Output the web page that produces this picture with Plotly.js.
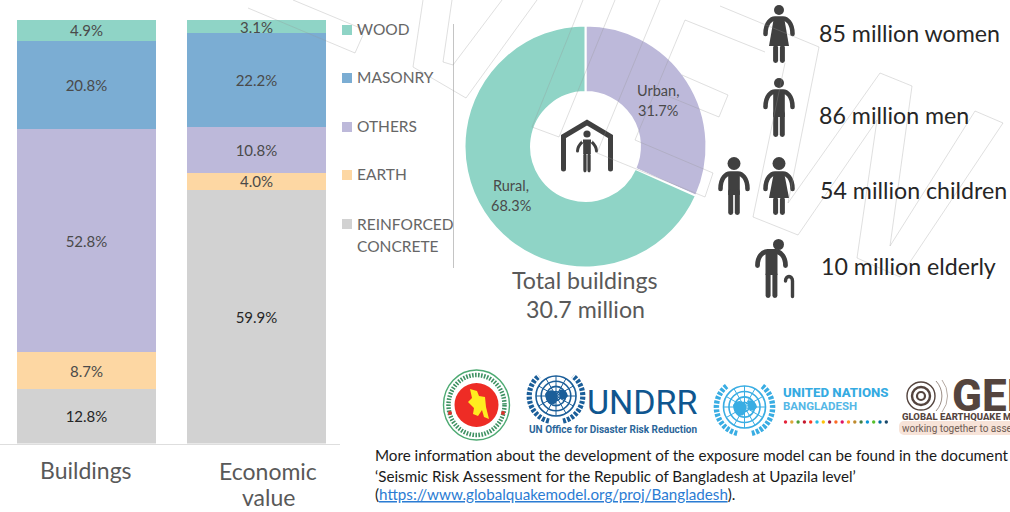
<!DOCTYPE html>
<html>
<head>
<meta charset="utf-8">
<script src="https://cdn.plot.ly/plotly-3.0.1.min.js"></script>
<style>html,body{margin:0;padding:0;background:#fff}#chart{width:1010px;height:512px}</style>
</head>
<body>
<div id="chart"></div>
<script>
// Building stock composition, stacked from the ground up
const materials = ['REINFORCED CONCRETE', 'EARTH', 'OTHERS', 'MASONRY', 'WOOD'];
const buildingsShare = [12.8, 8.7, 52.8, 20.8, 4.9];
const economicShare = [59.9, 4.0, 10.8, 22.2, 3.1];
const materialColors = ['#D2D2D2', '#FDD7A3', '#BDB9DA', '#7BADD3', '#8FD4C6'];
const barCategories = ['Buildings', 'Economic value'];

// Urban / rural split of the buildings
const settlementLabels = ['Urban', 'Rural'];
const settlementShare = [31.7, 68.3];
const settlementColors = ['#BDB9DA', '#8FD4C6'];

// Population groups
const populationLabels = ['85 million women', '86 million men', '54 million children', '10 million elderly'];

const W = 1010, H = 512;
const FONT = 'Lato, "Open Sans", sans-serif';
const px = x => x / W;
const py = y => 1 - y / H;

// Stacked bars
const barTraces = materials.map((name, i) => ({
  type: 'bar',
  name: name,
  x: barCategories,
  y: [buildingsShare[i], economicShare[i]],
  width: 139 / 170,
  marker: { color: materialColors[i], line: { width: 0 } },
  texttemplate: '%{y:.1f}%',
  textposition: 'inside',
  insidetextanchor: 'middle',
  constraintext: 'none',
  textangle: 0,
  textfont: { family: FONT, size: 15, color: i === 0 ? '#262626' : '#4a4a4a' },
  hoverinfo: 'skip'
}));

// Donut
const donut = {
  type: 'pie',
  labels: settlementLabels,
  values: settlementShare,
  hole: 0.45,
  sort: false,
  direction: 'clockwise',
  rotation: 0,
  domain: { x: [464.5 / W, 706.5 / W], y: [py(267.5), py(25.5)] },
  marker: { colors: settlementColors, line: { color: '#ffffff', width: 2 } },
  textinfo: 'none',
  showlegend: false,
  hoverinfo: 'skip'
};

const annotations = [];
function label(text, x, y, size, color, anchor, weight, family) {
  annotations.push({
    xref: 'paper', yref: 'paper', x: px(x), y: py(y), text: text, showarrow: false,
    xanchor: anchor || 'left', yanchor: 'middle', align: anchor === 'center' ? 'center' : 'left',
    borderpad: 0, borderwidth: 0,
    font: { family: family || FONT, size: size, color: color, weight: weight || 400 }
  });
}

// Slice captions, set with more open line spacing than the pie's own text
label(settlementLabels[0] + ',', 658, 90, 14.5, '#4a4a4a', 'center');
label(settlementShare[0].toFixed(1) + '%', 658, 110, 14.5, '#4a4a4a', 'center');
label(settlementLabels[1] + ',', 511, 185, 14.5, '#4a4a4a', 'center');
label(settlementShare[1].toFixed(1) + '%', 511, 205, 14.5, '#4a4a4a', 'center');

// Category captions under the bars
label(barCategories[0], 86, 470, 23, '#595959', 'center');
label('Economic', 268, 471, 23, '#595959', 'center');
label('value', 268, 497, 23, '#595959', 'center');

// Hand-placed legend so the long entry can wrap onto two lines
const legendRows = [30, 78, 127, 175];
const shapes = [];
['WOOD', 'MASONRY', 'OTHERS', 'EARTH'].forEach((t, i) => {
  const c = materialColors[materials.indexOf(t)];
  shapes.push({ type: 'rect', xref: 'paper', yref: 'paper', x0: px(342), x1: px(352), y0: py(legendRows[i] + 5), y1: py(legendRows[i] - 5), fillcolor: c, line: { width: 0 } });
  label(t, 357, legendRows[i] - 1, 15.5, '#666666');
});
shapes.push({ type: 'rect', xref: 'paper', yref: 'paper', x0: px(342), x1: px(352), y0: py(229), y1: py(219), fillcolor: materialColors[0], line: { width: 0 } });
label('REINFORCED', 357, 224, 15.5, '#666666');
label('CONCRETE', 357, 246, 15.5, '#666666');

// Divider between the bars and the donut
shapes.push({ type: 'line', xref: 'paper', yref: 'paper', x0: px(453.5), x1: px(453.5), y0: py(24), y1: py(268), line: { color: '#c4c4c4', width: 1 } });

// Donut caption
label('Total buildings', 585, 279.5, 23.2, '#595959', 'center');
label('30.7 million', 585, 308.5, 23.2, '#595959', 'center');

// Population captions
label(populationLabels[0], 819, 33, 23.2, '#262626');
label(populationLabels[1], 819, 115, 23.2, '#262626');
label(populationLabels[2], 820, 190, 23.2, '#262626');
label(populationLabels[3], 821, 266, 23.2, '#262626');

// Logo wordmarks
label('UNDRR', 587, 402, 34, '#0F568F', 'left', 400, 'Roboto, sans-serif');
label('UN Office for Disaster Risk Reduction', 529, 429, 10, '#2B6699', 'left', 700, 'Roboto, sans-serif');
label('UNITED NATIONS', 783, 392, 13.2, '#35ABE2', 'left', 800, 'Roboto, sans-serif');
label('BANGLADESH', 783, 406, 11.5, '#55B7E6', 'left', 700, 'Roboto, sans-serif');
label('GEM', 952, 396, 44, '#54443E', 'left', 800, 'Roboto, sans-serif');
label('GLOBAL EARTHQUAKE MODEL', 902, 416.5, 9.5, '#54443E', 'left', 800, 'Roboto, sans-serif');
label('working together to assess', 902, 428, 10, '#6E5C54', 'left', 400, 'Roboto, sans-serif');

// Source note
label('More information about the development of the exposure model can be found in the document', 375, 455, 15.2, '#1a1a1a');
label('‘Seismic Risk Assessment for the Republic of Bangladesh at Upazila level’', 375, 475.5, 15.2, '#1a1a1a');
label('(<a href="https://www.globalquakemodel.org/proj/Bangladesh"><span style="color:#2B7CD3"><u>https://www.globalquakemodel.org/proj/Bangladesh</u></span></a>).', 375, 494, 15.2, '#1a1a1a');

// Faint outlined lettering running across the page
const outlineStrokes = [
  [[248, 8], [355, 53], [363, 35]],
  [[293, 0], [365, 30]],
  [[423, 0], [413, 67], [466, 98], [537, 0]],
  [[452, 0], [443, 62], [453, 65], [502, 0]],
  [[583, 0], [532, 127], [559, 137], [615, 0]],
  [[660, 0], [597, 153], [705, 197], [713, 173], [635, 140], [685, 20], [765, 52]],
  [[682, 75], [728, 95], [719, 117], [665, 95]],
  [[720, 6], [819, 47], [788, 203], [880, 73], [912, 86], [890, 246], [975, 111], [1003, 123], [900, 277], [857, 258], [877, 120], [798, 235], [753, 217], [785, 63]]
];
outlineStrokes.forEach(stroke => {
  const d = stroke.map((p, i) => (i ? 'L' : 'M') + px(p[0]) + ' ' + py(p[1])).join(' ');
  shapes.push({ type: 'path', xref: 'paper', yref: 'paper', path: d, layer: 'above', line: { color: 'rgba(150,150,150,0.3)', width: 1 } });
});

// Pictograms and emblem artwork, laid out in page pixels
const ink = '#404040';
function arms(cx, y, half, len, sw) {
  return `<path d="M${cx - half} ${y + len} C${cx - half} ${y + 4} ${cx - half + 6} ${y} ${cx - 4} ${y} L${cx + 4} ${y} C${cx + half - 6} ${y} ${cx + half} ${y + 4} ${cx + half} ${y + len}" fill="none" stroke="${ink}" stroke-width="${sw}" stroke-linecap="round"/>`;
}
function legs(cx, y0, y1, w, gap) {
  return `<rect x="${cx - gap - w}" y="${y0}" width="${w}" height="${y1 - y0}" rx="2.4" fill="${ink}"/><rect x="${cx + gap}" y="${y0}" width="${w}" height="${y1 - y0}" rx="2.4" fill="${ink}"/>`;
}
function man(cx, top, bottom, r) {
  return `<circle cx="${cx}" cy="${top + r}" r="${r}" fill="${ink}"/>` +
    arms(cx, top + 2 * r + 3.5, 13.5, 15.5, 4.6) +
    `<rect x="${cx - 5.8}" y="${top + 2 * r + 2}" width="11.6" height="${bottom - top - 2 * r - 22}" fill="${ink}"/>` +
    legs(cx, bottom - 26, bottom, 5, 0.8);
}
function woman(cx, top, bottom, r) {
  return `<circle cx="${cx}" cy="${top + r}" r="${r}" fill="${ink}"/>` +
    arms(cx, top + 2 * r + 3.5, 13.5, 15.5, 4.6) +
    `<path d="M${cx - 5} ${top + 2 * r + 2} L${cx + 5} ${top + 2 * r + 2} L${cx + 10} ${bottom - 17} L${cx - 10} ${bottom - 17} Z" fill="${ink}"/>` +
    legs(cx, bottom - 18, bottom, 5, 0.9);
}
function elder(cx, top, bottom) {
  return `<circle cx="${cx + 7}" cy="${top + 5.5}" r="5.5" fill="${ink}"/>` +
    arms(cx, top + 12.5, 14, 14, 4.8) +
    `<rect x="${cx - 6}" y="${top + 11}" width="12" height="${bottom - top - 34}" fill="${ink}"/>` +
    legs(cx, bottom - 26, bottom, 5, 0.9) +
    `<path d="M${cx + 14} ${bottom - 17} C${cx + 14} ${bottom - 23} ${cx + 21} ${bottom - 23} ${cx + 21} ${bottom - 17} L${cx + 21} ${bottom - 1.5}" fill="none" stroke="${ink}" stroke-width="3.4" stroke-linecap="round"/>`;
}
function house() {
  return `<path d="M563.5 169 L563.5 136.5 L587 122.5 L610.5 136.5 L610.5 169" fill="none" stroke="${ink}" stroke-width="5" stroke-linecap="round" stroke-linejoin="miter"/>` +
    `<circle cx="587" cy="134" r="3.6" fill="${ink}"/>` +
    arms(587, 141, 9.5, 10, 3) +
    `<rect x="583.2" y="140" width="7.6" height="14" fill="${ink}"/>` +
    legs(587, 153, 172.5, 3.3, 0.4);
}
function unEmblem(cx, cy, r, col) {
  let s = '';
  [1, 0.74, 0.48, 0.22].forEach(k => { s += `<circle cx="${cx}" cy="${cy}" r="${r * k}" fill="none" stroke="${col}" stroke-width="1.6"/>`; });
  for (let a = 0; a < 180; a += 30) {
    const dx = Math.cos(a * Math.PI / 180) * r, dy = Math.sin(a * Math.PI / 180) * r;
    s += `<line x1="${cx - dx}" y1="${cy - dy}" x2="${cx + dx}" y2="${cy + dy}" stroke="${col}" stroke-width="1"/>`;
  }
  // land masses
  s += `<path d="M${cx - r * 0.55} ${cy - r * 0.1} q${r * 0.3} ${-r * 0.35} ${r * 0.6} ${-r * 0.05} q${r * 0.1} ${r * 0.45} ${-r * 0.15} ${r * 0.55} q${-r * 0.4} ${r * 0.05} ${-r * 0.45} ${-r * 0.5} Z M${cx + r * 0.15} ${cy - r * 0.3} q${r * 0.35} ${-r * 0.1} ${r * 0.45} ${r * 0.3} q${-r * 0.2} ${r * 0.3} ${-r * 0.4} ${r * 0.1} Z" fill="${col}"/>`;
  // olive wreath
  const w = r * 1.28;
  s += `<path d="M${cx - r * 0.35} ${cy + w * 0.98} A${w} ${w} 0 0 1 ${cx - r * 0.85} ${cy - w * 0.78}" fill="none" stroke="${col}" stroke-width="${r * 0.26}" stroke-dasharray="3 1.4"/>`;
  s += `<path d="M${cx + r * 0.35} ${cy + w * 0.98} A${w} ${w} 0 0 0 ${cx + r * 0.85} ${cy - w * 0.78}" fill="none" stroke="${col}" stroke-width="${r * 0.26}" stroke-dasharray="3 1.4"/>`;
  return s;
}
function stateSeal() {
  return `<ellipse cx="476.5" cy="405" rx="33" ry="35" fill="#ffffff" stroke="#4DAA72" stroke-width="1.4"/>` +
    `<ellipse cx="476.5" cy="405" rx="28" ry="30" fill="none" stroke="#3E9162" stroke-width="4.5" stroke-dasharray="1.6 1.4"/>` +
    `<circle cx="476.5" cy="405" r="22" fill="#EE2C25"/>` +
    `<path d="M470 389 L477 391 L479 396 L485 397 L486 407 L489 419 L484 417 L482 410 L478 416 L473 414 L474 408 L468 402 L472 398 Z" fill="#FFEC1F"/>` +
    `<circle cx="450" cy="413" r="2" fill="#D8352F"/><circle cx="503" cy="413" r="2" fill="#D8352F"/>`;
}
function gemSwirl() {
  return `<circle cx="921" cy="396" r="4" fill="none" stroke="#54443E" stroke-width="2.2"/>` +
    `<circle cx="921" cy="396" r="9" fill="none" stroke="#54443E" stroke-width="2.4"/>` +
    `<circle cx="921" cy="396" r="14" fill="none" stroke="#54443E" stroke-width="1.4"/>` +
    `<path d="M936 381 A22 22 0 0 1 936 411" fill="none" stroke="#9A8C84" stroke-width="1"/>` +
    `<path d="M942 380 A26 26 0 0 1 942 412" fill="none" stroke="#B5AAA3" stroke-width="1"/>` +
    `<rect x="899" y="421" width="130" height="14" rx="5" fill="#F7E3D8"/>`;
}
const sdgDots = ['#e5243b', '#dda63a', '#4c9f38', '#c5192d', '#ff3a21', '#26bde2', '#fcc30b', '#a21942', '#fd6925', '#dd1367', '#fd9d24', '#bf8b2e', '#3f7e44', '#0a97d9', '#56c02b', '#00689d', '#19486a']
  .map((c, i) => `<circle cx="${785.5 + i * 6.3}" cy="422" r="1.7" fill="${c}"/>`).join('');

const art = `<svg xmlns="http://www.w3.org/2000/svg" width="${W}" height="${H}" viewBox="0 0 ${W} ${H}">` +
  woman(779, 5, 63, 5) + man(779, 78, 137, 5) + man(734, 157, 215, 6.5) + woman(779, 157, 215, 6.5) +
  elder(771.5, 239, 298) + house() + stateSeal() +
  unEmblem(556, 396, 20, '#1B5E99') + unEmblem(744.5, 407, 21, '#39ADE3') + sdgDots + gemSwirl() +
  `</svg>`;

const layout = {
  width: W, height: H,
  margin: { l: 0, r: 0, t: 0, b: 0, pad: 0 },
  paper_bgcolor: '#ffffff', plot_bgcolor: 'rgba(0,0,0,0)',
  showlegend: false,
  barmode: 'stack',
  xaxis: {
    domain: [0, 340 / W], range: [-86.5 / 170, 253.5 / 170], type: 'category',
    showticklabels: false, ticks: '', showgrid: false, zeroline: false,
    showline: true, linecolor: '#dedede', linewidth: 1
  },
  yaxis: {
    domain: [py(443.5), py(20)], range: [0, 100], showticklabels: false,
    ticks: '', showgrid: false, zeroline: false, showline: false
  },
  annotations: annotations,
  shapes: shapes,
  images: [{
    source: 'data:image/svg+xml;charset=utf-8,' + encodeURIComponent(art),
    xref: 'paper', yref: 'paper', x: 0, y: 1, sizex: 1, sizey: 1,
    xanchor: 'left', yanchor: 'top', sizing: 'stretch', layer: 'above'
  }]
};

Plotly.newPlot('chart', barTraces.concat([donut]), layout, { displayModeBar: false, staticPlot: true });
</script>
</body>
</html>
